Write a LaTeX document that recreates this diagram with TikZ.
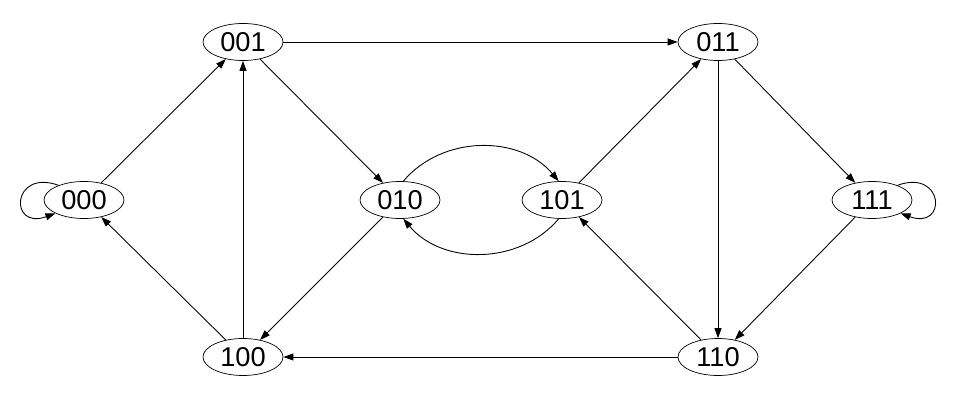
\documentclass[tikz,border=0pt]{standalone}
\usepackage{fontspec}
\setmainfont{Liberation Sans}
\usepackage{tikz}
\usetikzlibrary{shapes.geometric}
\usetikzlibrary{arrows.meta}

\tikzset{
	state/.style={draw, ellipse, minimum width=1.6cm, minimum height=0.74cm, inner sep=0pt, font=\fontsize{15.5}{17}\selectfont},
	link/.style={-{Triangle[length=2mm,width=1.4mm]}, line width=0.5pt}
}

\begin{document}
\begin{tikzpicture}
		\useasboundingbox (0, 0) rectangle (19.2, 7.94);
		% States:
		\node[state] (s000) at (1.68, 3.94){000};
		\node[state] (s001) at (4.86, 7.10){001};
		\node[state] (s100) at (4.86, 0.80){100};
		\node[state] (s010) at (8.00, 3.94){010};
		\node[state] (s101) at (11.24, 3.94){101};
		\node[state] (s011) at (14.36, 7.10){011};
		\node[state] (s110) at (14.36, 0.80){110};
		\node[state] (s111) at (17.44, 3.94){111};
		% Transitions:
		\draw[link] (s000.150) .. controls +(160:1.0) and +(200:1.0) .. (s000.205);
		\draw[link] (s111.30) .. controls +(20:1.0) and +(-20:1.0) .. (s111.-25);
		\draw[link] (s000) -- (s001);
		\draw[link] (s001) -- (s010);
		\draw[link] (s001) -- (s011);
		\draw[link] (s010.80) to[out=50, in=130] (s101.100);
		\draw[link] (s101.-100) to[out=-130, in=-50] (s010.-80);
		\draw[link] (s010) -- (s100);
		\draw[link] (s100) -- (s000);
		\draw[link] (s100) -- (s001);
		\draw[link] (s101) -- (s011);
		\draw[link] (s011) -- (s111);
		\draw[link] (s011) -- (s110);
		\draw[link] (s111) -- (s110);
		\draw[link] (s110) -- (s101);
		\draw[link] (s110) -- (s100);
	\end{tikzpicture}
\end{document}
